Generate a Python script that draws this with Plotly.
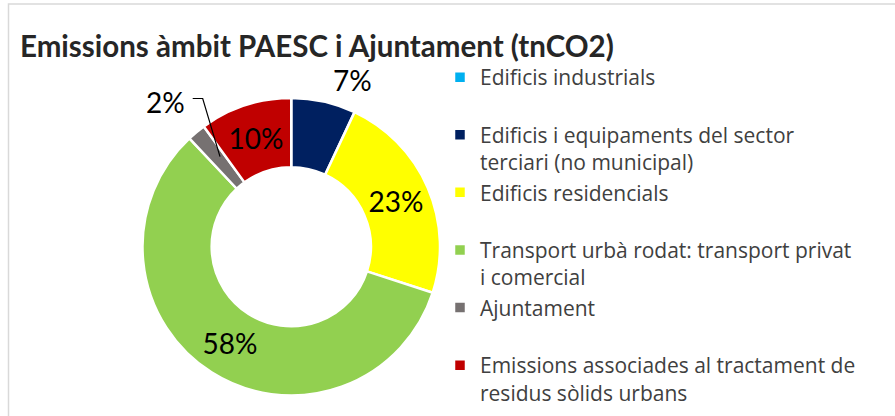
import plotly.graph_objects as go

# ---- data ----
categories = [
    "Edificis industrials",
    "Edificis i equipaments del sector terciari (no municipal)",
    "Edificis residencials",
    "Transport urbà rodat: transport privat i comercial",
    "Ajuntament",
    "Emissions associades al tractament de residus sòlids urbans",
]
legend_labels = [
    "Edificis industrials<br> ",
    "Edificis i equipaments del sector<br>terciari (no municipal)",
    "Edificis residencials<br> ",
    "Transport urbà rodat: transport privat<br>i comercial",
    "Ajuntament<br> ",
    "Emissions associades al tractament de<br>residus sòlids urbans",
]
shares = [0, 7, 23, 58, 2, 10]  # percent of total tnCO2
colors = ["#00b0f0", "#002060", "#ffff00", "#92d050", "#767171", "#c00000"]
label_pos = ["none", "none", "inside", "inside", "none", "inside"]

W, H = 895, 416

def px(x):
    return x / W

def py(y):
    return 1 - y / H

LABEL_FONT = dict(family="Lato, Open Sans, sans-serif", size=28, color="black")

fig = go.Figure()
fig.add_trace(go.Pie(
    labels=legend_labels,
    values=shares,
    sort=False,
    direction="clockwise",
    rotation=0,
    hole=0.535,
    marker=dict(colors=colors, line=dict(color="white", width=2.5)),
    texttemplate="%{percent:.0%}",
    textposition=label_pos,
    insidetextorientation="horizontal",
    textfont=LABEL_FONT,
    domain=dict(x=[px(142.5), px(440)], y=[py(396), py(97.5)]),
    hoverinfo="label+percent",
))

# outside labels (small slices) with leader line for the 2% slice
annotations = [
    dict(text="7%", x=px(352), y=py(80), xref="paper", yref="paper",
         xanchor="center", yanchor="middle",
         showarrow=False, font=LABEL_FONT),
    dict(text="2%", x=px(165), y=py(102), xref="paper", yref="paper",
         xanchor="center", yanchor="middle",
         showarrow=False, font=LABEL_FONT),
]
shapes = [
    dict(type="path", xref="paper", yref="paper",
         path=f"M {px(192.7)},{py(98.5)} L {px(202.7)},{py(98.5)} L {px(220)},{py(156.7)}",
         line=dict(color="black", width=1.2)),
    dict(type="rect", xref="paper", yref="paper",
         x0=px(8.5), x1=1.2, y0=-0.2, y1=py(4), line=dict(color="#d9d9d9", width=1.5),
         fillcolor="rgba(0,0,0,0)", layer="below"),
]

fig.update_layout(
    width=W, height=H,
    margin=dict(l=0, r=0, t=0, b=0),
    paper_bgcolor="white",
    plot_bgcolor="white",
    title=dict(
        text="<b>Emissions àmbit PAESC i Ajuntament (tnCO2)</b>",
        x=px(20), xanchor="left", xref="paper",
        y=py(47), yanchor="middle", yref="paper",
        font=dict(family="Lato, Open Sans, sans-serif", size=29.5, color="#262626"),
    ),
    legend=dict(
        x=px(440), xanchor="left", y=py(57), yanchor="top",
        font=dict(family="Open Sans, sans-serif", size=21, color="#404040"),
        valign="top",
        bgcolor="rgba(0,0,0,0)",
        traceorder="normal",
    ),
    annotations=annotations,
    shapes=shapes,
)

fig.write_html("out.html", config={"displayModeBar": False},
               post_script="document.body.style.margin='0';")
